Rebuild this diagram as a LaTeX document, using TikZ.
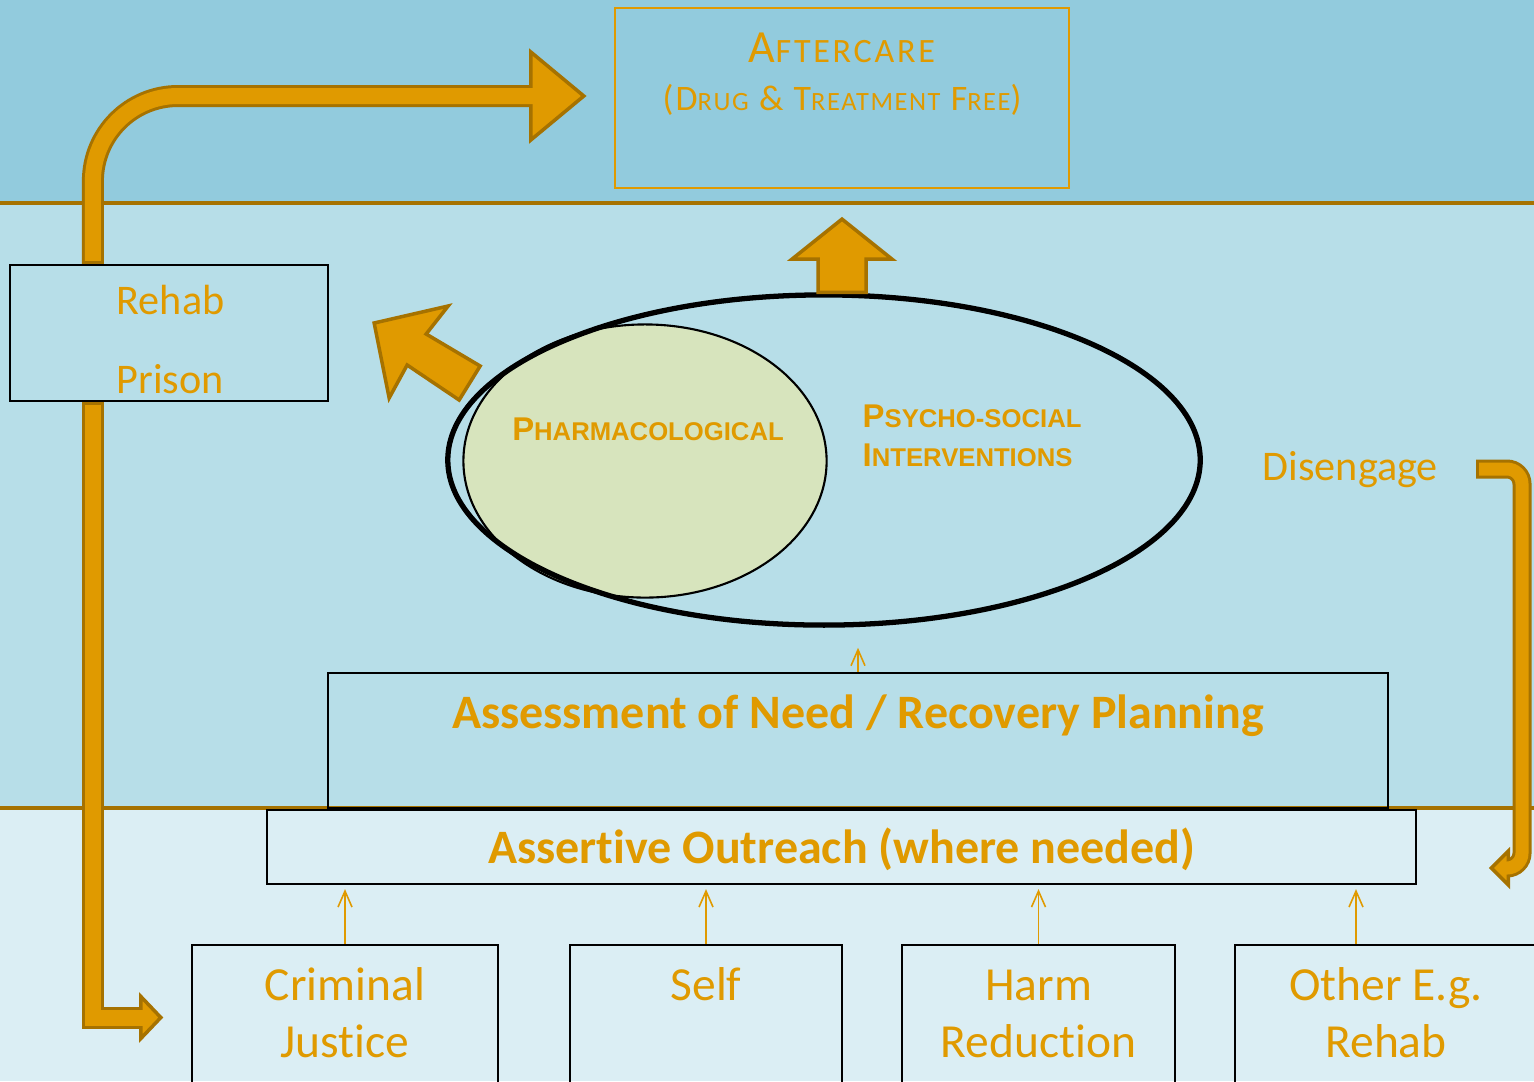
\documentclass[tikz,border=0pt]{standalone}
\usepackage{fontspec}
\setmainfont{Carlito}[Ligatures=NoCommon]
\newfontfamily\arialfont{Liberation Sans}
\newfontfamily\widefont[LetterSpace=8]{Carlito}
\newfontfamily\widerfont[LetterSpace=6]{Carlito}
\usetikzlibrary{arrows.meta,shapes.geometric,calc,positioning}

\definecolor{bandtop}{RGB}{146,203,221}
\definecolor{bandmid}{RGB}{183,222,232}
\definecolor{bandlow}{RGB}{219,238,244}
\definecolor{amber}{RGB}{224,154,0}
\definecolor{amberdark}{RGB}{166,114,0}
\definecolor{pharmfill}{RGB}{215,228,189}

% fake small capitals: size, letters
\newcommand{\lowcaps}[2]{{\fontsize{#1}{12}\selectfont #2}}

\tikzset{
  box/.style={draw=black, line width=0.6pt, inner sep=0},
  lbl/.style={text=amber, inner sep=0},
  feed/.style={amber, line width=0.45pt, -{Straight Barb[length=0.16cm,width=0.14cm]}},
  pipeout/.style={amberdark, line width=0.22cm},
  pipein/.style={amber, line width=0.16cm},
  thinout/.style={amberdark, line width=0.19cm},
  thinin/.style={amber, line width=0.13cm},
  blockhead/.style={fill=amber, draw=amberdark, line width=1pt, line join=miter},
}

\begin{document}
\begin{tikzpicture}[x=0.01cm, y=-0.01cm]
    \useasboundingbox (0,0) rectangle (1534,1081);
    \clip (0,0) rectangle (1534,1081);

    % three bands
    \fill[bandtop] (0,0) rectangle (1534,203);
    \fill[bandmid] (0,203) rectangle (1534,808);
    \fill[bandlow] (0,808) rectangle (1534,1081);
    \draw[amberdark, line width=1.1pt] (0,203) -- (1534,203) (0,808) -- (1534,808);

    % aftercare
    \node[draw=amber, line width=0.6pt, minimum width=4.54cm, minimum height=1.8cm] (aftercare) at (842,98) {};
    \node[lbl, anchor=north, align=center, font=\fontsize{13.1}{13.7}\selectfont] at (842,28)
        {\strut\widefont A\lowcaps{9.7}{FTERCARE}\\
         \widerfont\lowcaps{10.2}{(D\lowcaps{7.5}{RUG} \& T\lowcaps{7.5}{REATMENT} F\lowcaps{7.5}{REE})}};

    % rehab / prison
    \node[box, minimum width=3.18cm, minimum height=1.36cm] (rehab) at (169,333) {};
    \node[lbl, anchor=north west, align=left, font=\fontsize{12}{22.5}\selectfont] at (116,258) {\strut Rehab\\Prison};

    % treatment ellipse
    \node[ellipse, fill=pharmfill, draw=black, line width=0.6pt, minimum width=3.63cm, minimum height=2.73cm, inner sep=0] (pharm) at (645,461) {};
    \node[ellipse, draw=black, line width=1.5pt, minimum width=7.52cm, minimum height=3.3cm, inner sep=0] (treat) at (824,460) {};
    \node[lbl, anchor=base, font=\arialfont\bfseries\fontsize{9.35}{11}\selectfont] at (648,440) {P\lowcaps{7.3}{HARMACOLOGICAL}};
    \node[lbl, anchor=north west, align=left, font=\arialfont\bfseries\fontsize{9.35}{11.1}\selectfont] at (862,399)
        {\strut P\lowcaps{7.3}{SYCHO-SOCIAL}\\I\lowcaps{7.3}{NTERVENTIONS}};

    \node[lbl, anchor=base west, font=\fontsize{12}{14}\selectfont] (diseng) at (1262,480) {Disengage};

    % assessment and outreach
    \node[box, minimum width=10.6cm, minimum height=1.35cm] (assess) at (858,740.5) {};
    \node[lbl, anchor=base, font=\bfseries\fontsize{13.65}{16}\selectfont] at (858,728) {Assessment of Need / Recovery Planning};
    \node[box, minimum width=11.49cm, minimum height=0.74cm] (outreach) at (841.5,847) {};
    \node[lbl, anchor=base, font=\bfseries\fontsize{13.65}{16}\selectfont] at (842,863) {Assertive Outreach (where needed)};

    % referral sources
    \node[box, minimum width=3.06cm, minimum height=1.45cm] (crim) at (345,1017.5) {};
    \node[lbl, anchor=north, align=center, font=\fontsize{13.5}{16.2}\selectfont] at (345,960) {\strut Criminal\\Justice};
    \node[box, minimum width=2.72cm, minimum height=1.45cm] (self) at (706,1017.5) {};
    \node[lbl, anchor=north, align=center, font=\fontsize{13.5}{16.2}\selectfont] at (706,960) {\strut Self};
    \node[box, minimum width=2.73cm, minimum height=1.45cm] (harm) at (1038.5,1017.5) {};
    \node[lbl, anchor=north, align=center, font=\fontsize{13.5}{16.2}\selectfont] at (1038.5,960) {\strut Harm\\Reduction};
    \node[box, minimum width=3.02cm, minimum height=1.45cm] (other) at (1386,1017.5) {};
    \node[lbl, anchor=north, align=center, font=\fontsize{13.5}{16.2}\selectfont] at (1386,960) {\strut Other E.g.\\Rehab};

    % thin feeds
    \draw[feed] (crim.north) -- ($(crim.north |- outreach.south)+(0,4)$);
    \draw[feed] (self.north) -- ($(self.north |- outreach.south)+(0,4)$);
    \draw[feed] (harm.north) -- ($(harm.north |- outreach.south)+(0,4)$);
    \draw[feed] ([xshift=-0.3cm]other.north) -- ($([xshift=-0.3cm]other.north |- outreach.south)+(0,4)$);
    \draw[feed] (assess.north) -- ($(assess.north |- treat.south)+(0,20)$);

    % rehab up to aftercare
    \coordinate (rehabtop) at ([xshift=0.84cm]rehab.north west);
    \coordinate (aftip) at ([xshift=-0.3cm, yshift=0.02cm]aftercare.west);
    \draw[pipeout, rounded corners=0.85cm] (rehabtop) |- ($(aftip)+(-50,0)$);
    \draw[blockhead] ($(aftip)+(-53,-44)$) -- (aftip) -- ($(aftip)+(-53,44)$) -- cycle;
    \draw[pipein, rounded corners=0.85cm] ($(rehabtop)+(0,-3)$) |- ($(aftip)+(-48,0)$);

    % prison down to criminal justice
    \coordinate (rehabbot) at ([xshift=0.84cm]rehab.south west);
    \coordinate (cjtip) at ([xshift=-0.3cm]crim.west);
    \draw[pipeout, line join=miter] (rehabbot) |- ($(cjtip)+(-22,0)$);
    \draw[blockhead] ($(cjtip)+(-20,-21)$) -- (cjtip) -- ($(cjtip)+(-20,21)$) -- cycle;
    \draw[pipein, line join=miter] ($(rehabbot)+(0,3)$) |- ($(cjtip)+(-17,0)$);

    % disengage loop
    \coordinate (distail) at ($(diseng.base west)+(214,-11)$);
    \coordinate (distip) at ($(outreach.east)+(74,21)$);
    \draw[thinout, rounded corners=0.15cm] (distail) -- ++(46,0) |- ($(distip)+(17,0)$);
    \draw[blockhead] ($(distip)+(17,-17)$) -- (distip) -- ($(distip)+(17,17)$) -- cycle;
    \draw[thinin, rounded corners=0.15cm] ($(distail)+(3,0)$) -- ++(43,0) |- ($(distip)+(14,0)$);

    % block arrows out of the ellipse
    \coordinate (uptip) at ($(aftercare.south)+(0,30)$);
    \coordinate (upfoot) at (aftercare.south |- treat.north);
    \draw[blockhead] ($(upfoot)+(-24,0)$) -- ($(uptip)+(-24,40)$) -- ($(uptip)+(-50,40)$) -- (uptip)
        -- ($(uptip)+(50,40)$) -- ($(uptip)+(24,40)$) -- ($(upfoot)+(24,0)$) -- cycle;
    \coordinate (diagtip) at ($(rehab.east)+(45,-10)$);
    \draw[blockhead] (diagtip) -- ++(74,-17) -- ++(-22,28) -- ++(54,32) -- ++(-21,34) -- ++(-52,-35) -- ++(-18,33) -- cycle;
\end{tikzpicture}
\end{document}
